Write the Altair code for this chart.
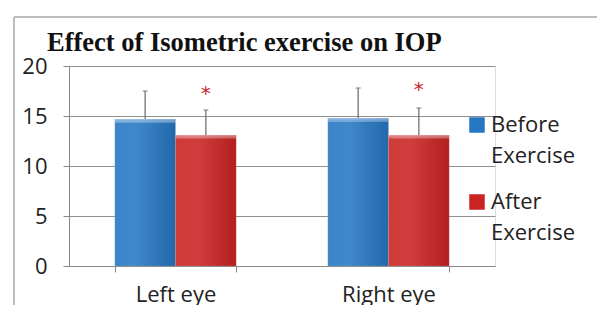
import altair as alt
import pandas as pd

title_text = "Effect of Isometric exercise on IOP"
eyes = ["Left eye", "Right eye"]
series = ["Before Exercise", "After Exercise"]
before_mean = [14.7, 14.8]
before_upper = [17.5, 17.8]
after_mean = [13.1, 13.1]
after_upper = [15.6, 15.8]
star_pos = [17.6, 18.0]

rows = []
for i, e in enumerate(eyes):
    rows.append({"eye": e, "series": series[0], "value": before_mean[i], "upper": before_upper[i]})
    rows.append({"eye": e, "series": series[1], "value": after_mean[i], "upper": after_upper[i]})
df = pd.DataFrame(rows)
stars = pd.DataFrame({"eye": eyes, "series": [series[1]] * 2, "pos": star_pos, "txt": ["*", "*"]})

xenc = alt.X("eye:N", sort=eyes, title=None,
             scale=alt.Scale(paddingInner=0.43, paddingOuter=0.215),
             axis=alt.Axis(labelAngle=0, labelFontSize=22, labelFont="Open Sans", labelColor="#222",
                           tickBand="extent", tickSize=6, tickColor="#888", domainColor="#888",
                           labelPadding=12))
xoff = alt.XOffset("series:N", sort=series, scale=alt.Scale(paddingInner=0, paddingOuter=0))
yenc = alt.Y("value:Q", title=None,
             scale=alt.Scale(domain=[0, 20]),
             axis=alt.Axis(values=[0, 5, 10, 15, 20], labelFontSize=22, labelFont="Open Sans",
                           labelColor="#222", tickSize=6, tickColor="#888", domainColor="#888",
                           gridColor="#8f8f8f", gridWidth=1.2, labelPadding=16))

base = alt.Chart(df)
bars = base.mark_bar(stroke="#ffffff", strokeOpacity=0.25, strokeWidth=0.5).encode(
    x=xenc, xOffset=xoff, y=yenc,
    color=alt.Color("series:N", sort=series,
                    scale=alt.Scale(domain=series, range=["#2577c2", "#c92422"]),
                    legend=alt.Legend(title=None, orient="none", legendX=397, legendY=48,
                                      symbolType="square", symbolSize=240, symbolStrokeWidth=0,
                                      labelFontSize=22, labelFont="Open Sans", labelColor="#222",
                                      labelExpr="split(datum.label, ' ')", labelLimit=300,
                                      labelBaseline="middle", rowPadding=24, labelOffset=3)),
)
shade = base.mark_bar(fill={"gradient": "linear", "x1": 0, "x2": 1, "y1": 0, "y2": 0,
                            "stops": [{"offset": 0, "color": "rgba(255,255,255,0.10)"},
                                      {"offset": 0.35, "color": "rgba(255,255,255,0.12)"},
                                      {"offset": 1, "color": "rgba(0,0,0,0.12)"}]}).encode(
    x=alt.X("eye:N", sort=eyes), xOffset=alt.XOffset("series:N", sort=series), y="value:Q")
topglow = base.mark_bar(fill={"gradient": "linear", "x1": 0, "x2": 0, "y1": 0, "y2": 1,
                              "stops": [{"offset": 0, "color": "rgba(255,255,255,0.45)"},
                                        {"offset": 0.025, "color": "rgba(255,255,255,0.25)"},
                                        {"offset": 0.03, "color": "rgba(255,255,255,0)"},
                                        {"offset": 1, "color": "rgba(255,255,255,0)"}]}).encode(
    x=alt.X("eye:N", sort=eyes), xOffset=alt.XOffset("series:N", sort=series), y="value:Q")
err = base.mark_rule(color="#737373", strokeWidth=1.3).encode(
    x=alt.X("eye:N", sort=eyes), xOffset=alt.XOffset("series:N", sort=series),
    y="value:Q", y2="upper:Q")
cap = base.mark_tick(color="#737373", thickness=1.3, size=5).encode(
    x=alt.X("eye:N", sort=eyes), xOffset=alt.XOffset("series:N", sort=series),
    y="upper:Q")
star = alt.Chart(stars).mark_text(color="#c8262a", fontSize=20, font="DejaVu Sans",
                                  baseline="middle", dy=4).encode(
    x=alt.X("eye:N", sort=eyes), xOffset=alt.XOffset("series:N", sort=series),
    y="pos:Q", text="txt:N")

fr = alt.Chart(pd.DataFrame({"k": [0]}))
frame_left = fr.mark_rule(color="#bdbdbd", strokeWidth=2).encode(
    x=alt.value(-55), y=alt.value(-49), y2=alt.value(250))
frame_top = fr.mark_rule(color="#bdbdbd", strokeWidth=2).encode(
    x=alt.value(-55), x2=alt.value(530), y=alt.value(-49))
frame_right = fr.mark_rule(color="#bdbdbd", strokeWidth=2).encode(
    x=alt.value(530), y=alt.value(-49), y2=alt.value(250))
title = alt.Chart(pd.DataFrame({"t": [title_text]})).mark_text(
    font="Liberation Serif", fontSize=26.5, fontWeight="bold", color="#111",
    align="left", baseline="alphabetic").encode(
    x=alt.value(-22), y=alt.value(-15), text="t:N")

chart = alt.layer(frame_left, frame_top, frame_right, bars, shade, topglow, err, cap, star,
                  title).properties(
    width=426, height=200,
    padding={"left": 61, "top": 58, "right": 102, "bottom": 39},
    autosize=alt.AutoSizeParams(type="none"),
).configure_view(stroke=None).configure(background="white",
                                        style={"guide-label": {"lineHeight": 31}})

chart.save("out.html", embed_options={"renderer": "svg", "actions": False})
